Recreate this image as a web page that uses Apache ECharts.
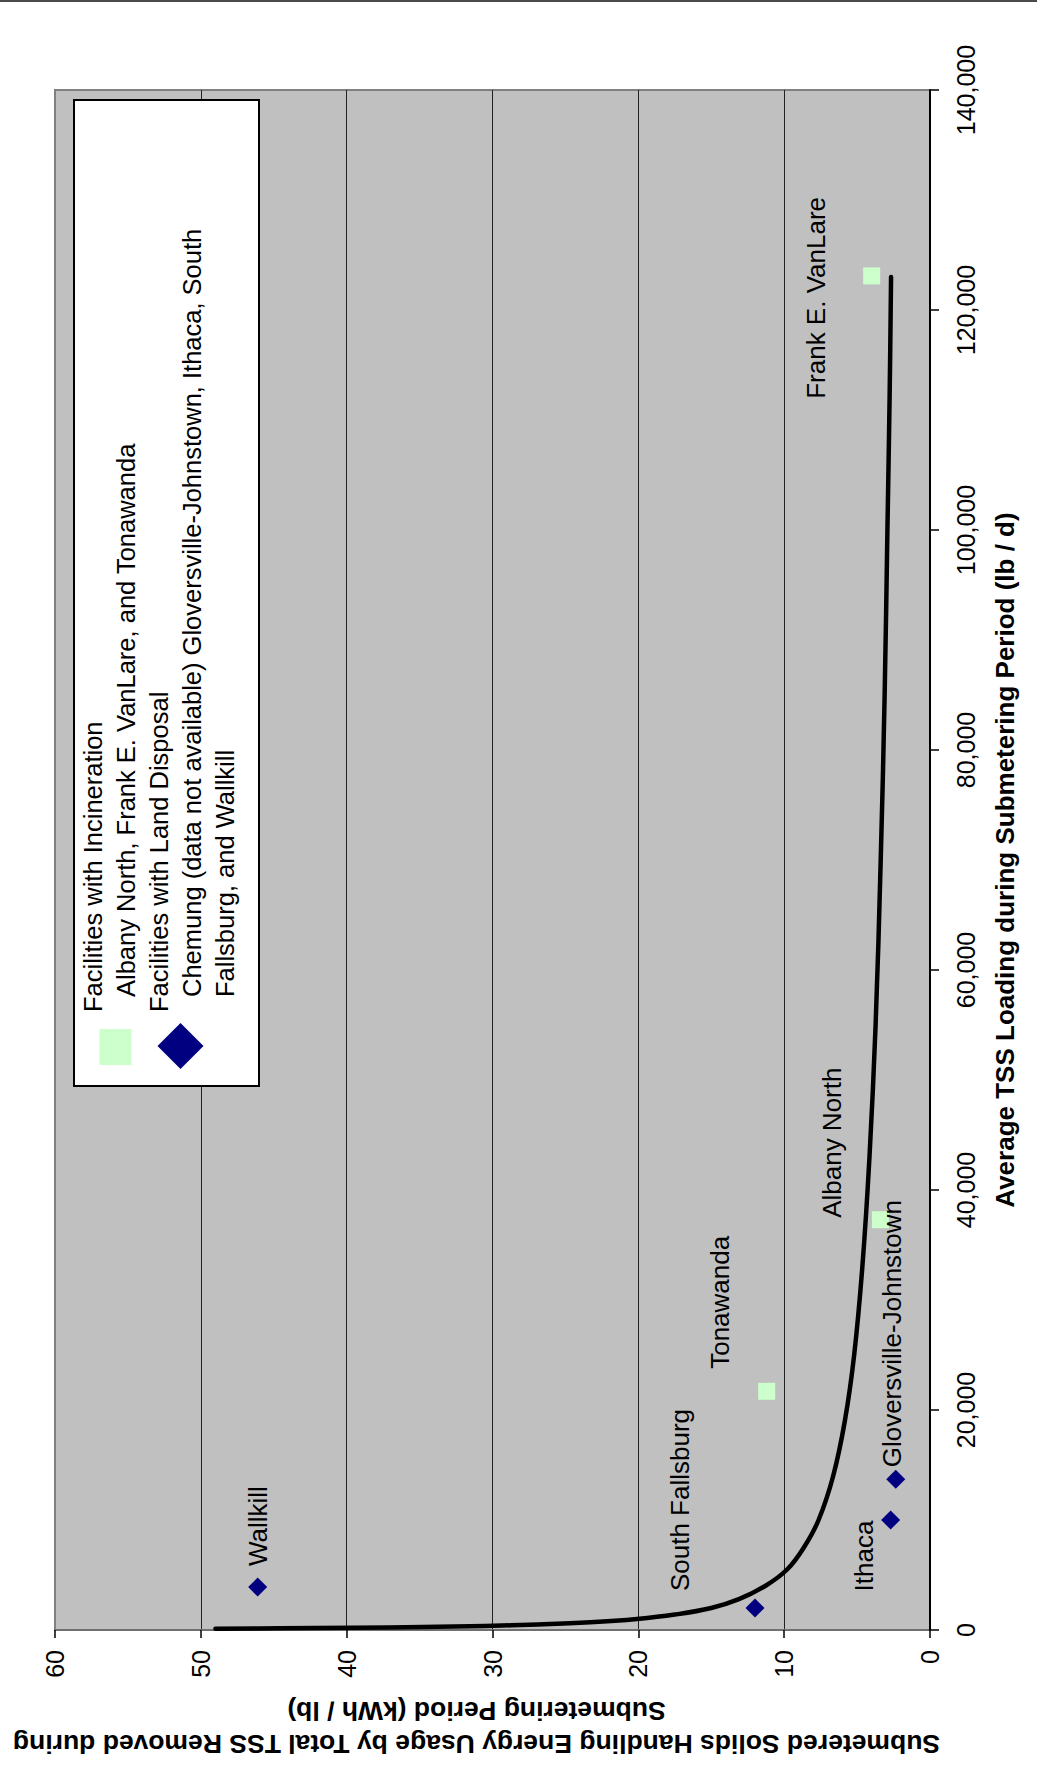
<!DOCTYPE html>
<html>
<head>
<meta charset="utf-8">
<title>Submetered Solids Handling Energy Usage</title>
<script src="https://cdn.jsdelivr.net/npm/echarts@6/dist/echarts.min.js"></script>
<style>
  html, body { margin: 0; padding: 0; background: #ffffff; }
  #page { position: absolute; left: 0; top: 0; width: 1037px; height: 1780px; overflow: hidden; background: #ffffff; }
  #chart { position: absolute; left: 0; top: 0; width: 1780px; height: 1037px;
           transform-origin: 0 0; transform: translate(0px, 1780px) rotate(-90deg); }
  #topline { position: absolute; left: 0; top: 0; width: 1037px; height: 2px; background: #4a4a4a; }
</style>
</head>
<body>
<div id="page"><div id="chart"></div><div id="topline"></div></div>
<script>
// ---- Data ----
const incinerationNames  = ['Frank E. VanLare', 'Albany North', 'Tonawanda'];
const incinerationTSS    = [123100, 37300, 21700];      // lb / d
const incinerationEnergy = [4.0, 3.4, 11.2];             // kWh / lb

const landNames  = ['Wallkill', 'South Fallsburg', 'Ithaca', 'Gloversville-Johnstown'];
const landTSS    = [3900, 2000, 10000, 13700];
const landEnergy = [46.1, 12.0, 2.7, 2.35];

// trend curve, points
const trendTSS    = [120, 150, 200, 270, 370, 500, 700, 1000, 1400, 2000, 2800, 4000, 5500, 7500,
                     10000, 14000, 19000, 25000, 33000, 43000, 55000, 70000, 85000, 100000, 112000, 123000];
const trendEnergy = [49, 44.6, 39.6, 34.8, 30.5, 26.9, 23.3, 20.1, 17.5, 15.0, 13.1, 11.3, 9.8, 8.65,
                     7.64, 6.64, 5.84, 5.2, 4.64, 4.15, 3.73, 3.38, 3.11, 2.92, 2.77, 2.67];

const xTickMin = 0, xTickMax = 140000, xTickStep = 20000;
const yTickMin = 0, yTickMax = 60, yTickStep = 10;

const seriesNames = ['Facilities with Incineration', 'Facilities with Land Disposal'];
const legendDetail = {
  'Facilities with Incineration': ['Albany North, Frank E. VanLare, and Tonawanda'],
  'Facilities with Land Disposal': ['Chemung (data not available) Gloversville-Johnstown, Ithaca, South', 'Fallsburg, and Wallkill']
};
const xTitle = 'Average TSS Loading during Submetering Period (lb / d)';
const yTitle = 'Submetered Solids Handling Energy Usage by Total TSS Removed during\nSubmetering Period (kWh / lb)';

// ---- label placement (style, not data) ----
const labelLayout = {
  'Frank E. VanLare':       { offset: [-22, -56], align: 'center' },
  'Albany North':           { offset: [77, -48],  align: 'center' },
  'Tonawanda':              { offset: [89, -47],  align: 'center' },
  'Wallkill':               { offset: [21, 0],    align: 'left' },
  'South Fallsburg':        { offset: [108, -75], align: 'center' },
  'Ithaca':                 { offset: [-36, -27], align: 'center' },
  'Gloversville-Johnstown': { offset: [12, -4],   align: 'left' }
};

const FONT = "'Liberation Sans', Arial, Helvetica, sans-serif";

function pts(names, xs, ys) {
  return names.map((n, i) => {
    const l = labelLayout[n];
    return {
      name: n,
      value: [xs[i], ys[i]],
      label: { show: true, formatter: n, position: 'inside', align: l.align, verticalAlign: 'middle', offset: l.offset }
    };
  });
}

const chart = echarts.init(document.getElementById('chart'), null, { renderer: 'svg' });

function legendFormatter(name) {
  const lines = ['{h|' + name + '}'];
  legendDetail[name].forEach(t => lines.push('{i|' + t + '}'));
  return lines.join('\n');
}

const LF = 25.5;
const option = {
  backgroundColor: '#ffffff',
  animation: false,
  textStyle: { fontFamily: FONT },
  grid: {
    left: 150, right: 90, top: 55, bottom: 107,
    show: true, backgroundColor: '#c0c0c0', borderColor: '#808080', borderWidth: 2
  },
  graphic: [{
    type: 'rect', z: 3,
    shape: { x: 694, y: 74, width: 986, height: 185 },
    style: { fill: '#ffffff', stroke: '#000000', lineWidth: 2 }
  }],
  legend: [{
    data: [{ name: seriesNames[0], icon: 'rect', itemStyle: { color: '#ccffcc', opacity: 1 } }],
    left: 715, top: 76, padding: 0, z: 5,
    itemWidth: 36, itemHeight: 32,
    formatter: legendFormatter,
    textStyle: {
      fontFamily: FONT, fontSize: LF, color: '#000', lineHeight: 33, padding: [0, 0, 13, 0],
      rich: {
        h: { fontFamily: FONT, fontSize: LF, color: '#000', lineHeight: 33, padding: [0, 0, 0, 12] },
        i: { fontFamily: FONT, fontSize: LF, color: '#000', lineHeight: 33, padding: [0, 0, 0, 27] }
      }
    }
  }, {
    data: [{ name: seriesNames[1], icon: 'diamond', itemStyle: { color: '#000080', opacity: 1 } }],
    left: 711, top: 120, padding: 0, z: 5,
    itemWidth: 46, itemHeight: 46,
    formatter: legendFormatter,
    textStyle: {
      fontFamily: FONT, fontSize: LF, color: '#000', lineHeight: 33, padding: [22, 0, 0, 0],
      rich: {
        h: { fontFamily: FONT, fontSize: LF, color: '#000', lineHeight: 33, padding: [0, 0, 0, 6] },
        i: { fontFamily: FONT, fontSize: LF, color: '#000', lineHeight: 33, padding: [0, 0, 0, 21] }
      }
    }
  }],
  xAxis: {
    type: 'value', min: xTickMin, max: xTickMax, interval: xTickStep,
    position: 'bottom',
    name: xTitle, nameLocation: 'middle', nameGap: 62,
    nameTextStyle: { fontFamily: FONT, fontSize: 26, fontWeight: 'bold', color: '#000' },
    axisLine: { show: true, onZero: false, lineStyle: { color: '#000', width: 2 } },
    axisTick: { show: true, length: 9, lineStyle: { color: '#000', width: 1.5 } },
    axisLabel: {
      fontFamily: FONT, fontSize: 25, color: '#000', margin: 23,
      formatter: v => v.toLocaleString('en-US')
    },
    splitLine: { show: false }
  },
  yAxis: {
    type: 'value', min: yTickMin, max: yTickMax, interval: yTickStep,
    name: yTitle, nameLocation: 'middle', nameGap: 64,
    nameTextStyle: { fontFamily: FONT, fontSize: 26.5, fontWeight: 'bold', color: '#000', lineHeight: 33, padding: [0, 0, 0, 32] },
    axisLine: { show: true, onZero: false, lineStyle: { color: '#707070', width: 2 } },
    axisTick: { show: true, length: 8, lineStyle: { color: '#000', width: 1.5 } },
    axisLabel: { fontFamily: FONT, fontSize: 25, color: '#000', margin: 20 },
    splitLine: { show: true, showMinLine: false, showMaxLine: false, lineStyle: { color: '#222', width: 1 } }
  },
  series: [{
    name: 'Power trend',
    type: 'line',
    data: trendTSS.map((x, i) => [x, trendEnergy[i]]),
    smooth: 0.4,
    showSymbol: false, symbol: 'none',
    lineStyle: { color: '#000', width: 4.5, cap: 'round', join: 'round' },
    z: 2, silent: true
  }, {
    name: seriesNames[0],
    type: 'scatter',
    symbol: 'rect', symbolSize: 17,
    itemStyle: { color: '#ccffcc', opacity: 1 },
    label: { fontFamily: FONT, fontSize: 26, color: '#000' },
    data: pts(incinerationNames, incinerationTSS, incinerationEnergy),
    z: 3
  }, {
    name: seriesNames[1],
    type: 'scatter',
    symbol: 'diamond', symbolSize: 19,
    itemStyle: { color: '#000080', opacity: 1 },
    label: { fontFamily: FONT, fontSize: 26, color: '#000' },
    data: pts(landNames, landTSS, landEnergy),
    z: 3
  }]
};

chart.setOption(option);
</script>
</body>
</html>
